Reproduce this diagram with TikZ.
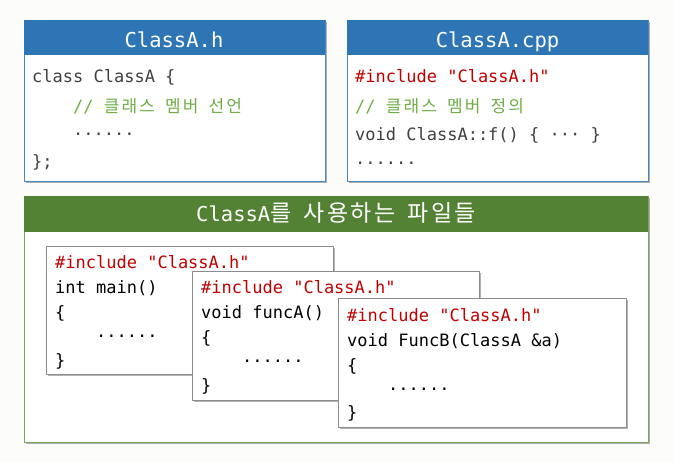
\documentclass[tikz,border=0pt]{standalone}
\usepackage{fontspec}
\setmonofont{DejaVu Sans Mono}
\newfontfamily\krc[LetterSpace=12]{Noto Sans CJK KR}
\newfontfamily\krh[LetterSpace=10]{Noto Sans CJK KR}
\usetikzlibrary{shadows}
\definecolor{bgc}{HTML}{FCFCFA}
\definecolor{bluehead}{HTML}{2E75B6}
\definecolor{blueline}{HTML}{4A86C5}
\definecolor{greenhead}{HTML}{548235}
\definecolor{greenline}{HTML}{7AA55D}
\definecolor{codegray}{HTML}{404040}
\definecolor{cmtgreen}{HTML}{70AD47}
\definecolor{incred}{HTML}{C00000}
\definecolor{innerline}{HTML}{8C8C8C}
\newcommand\KC[1]{{\krc #1}}
\newcommand\KH[1]{{\fontsize{23}{26}\krh #1}}
\begin{document}
\begin{tikzpicture}[x=1pt,y=-1pt,
  shad/.style={drop shadow={shadow xshift=1.5pt,shadow yshift=-1.5pt,opacity=0.3,fill=black}},
  filebox/.style={draw=blueline,line width=1pt,fill=white,shad,anchor=north west,inner sep=0,minimum width=301pt,minimum height=161pt},
  bluehd/.style={fill=bluehead,anchor=north west,inner sep=0,minimum width=301pt,minimum height=35pt},
  hdtext/.style={anchor=base,inner sep=0,text=white,font=\ttfamily\fontsize{20.5}{24}\selectfont},
  code/.style={anchor=base west,inner sep=0,text=codegray,font=\ttfamily\fontsize{17}{20}\selectfont},
  cmt/.style={code,text=cmtgreen},
  inc/.style={code,text=incred},
  blk/.style={code,text=black},
  innerbox/.style={draw=innerline,line width=1pt,fill=white,shad,anchor=north west,inner sep=0,minimum width=287pt,minimum height=129pt}
]
\fill[bgc] (0,0) rectangle (674,462);
\useasboundingbox (0,0) rectangle (674,462);

% ClassA.h
\node[filebox] (hbox) at (24,20) {};
\node[bluehd] (hhead) at (24,20) {};
\node[hdtext] (htitle) at (174,48) {ClassA.h};
\node[code] (h1) at (32,83) {class ClassA \{};
\node[cmt] (h2) at (73,113) {// \KC{클래스} \KC{멤버} \KC{선언}};
\node[code] (h3) at (73,136) {......};
\node[code] (h4) at (32,168) {\};};

% ClassA.cpp
\node[filebox] (cbox) at (347,20) {};
\node[bluehd] (chead) at (347,20) {};
\node[hdtext] (ctitle) at (497.5,48) {ClassA.cpp};
\node[inc] (c1) at (355,83) {\#include "ClassA.h"};
\node[cmt] (c2) at (355,113) {// \KC{클래스} \KC{멤버} \KC{정의}};
\node[code] (c3) at (355,141) {void ClassA::f() \{ ··· \}};
\node[code] (c4) at (355,165) {......};

% users
\node[draw=greenline,line width=1pt,fill=white,shad,anchor=north west,inner sep=0,minimum width=624pt,minimum height=246pt] (ubox) at (24,196) {};
\node[fill=greenhead,anchor=north west,inner sep=0,minimum width=624pt,minimum height=36pt] (uhead) at (24,196) {};
\node[hdtext] (utitle) at (336,222) {ClassA\KH{를} \KH{사용하는} \KH{파일들}};

% inner 1
\node[innerbox,minimum height=128pt] (m) at (46,246) {};
\node[inc] (m1) at (55,268) {\#include "ClassA.h"};
\node[blk] (m2) at (55,293) {int main()};
\node[blk] (m3) at (55,318) {\{};
\node[blk] (m4) at (96,337) {......};
\node[blk] (m5) at (55,366) {\}};

% inner 2
\node[innerbox] (fa) at (192,271) {};
\node[inc] (fa1) at (201,293) {\#include "ClassA.h"};
\node[blk] (fa2) at (201,318) {void funcA()};
\node[blk] (fa3) at (201,343) {\{};
\node[blk] (fa4) at (242,362) {......};
\node[blk] (fa5) at (201,391) {\}};

% inner 3
\node[innerbox,minimum width=288pt] (fb) at (338,298) {};
\node[inc] (fb1) at (347,321) {\#include "ClassA.h"};
\node[blk] (fb2) at (347,346) {void FuncB(ClassA \&a)};
\node[blk] (fb3) at (347,371) {\{};
\node[blk] (fb4) at (388,390) {......};
\node[blk] (fb5) at (347,418) {\}};
\end{tikzpicture}
\end{document}
